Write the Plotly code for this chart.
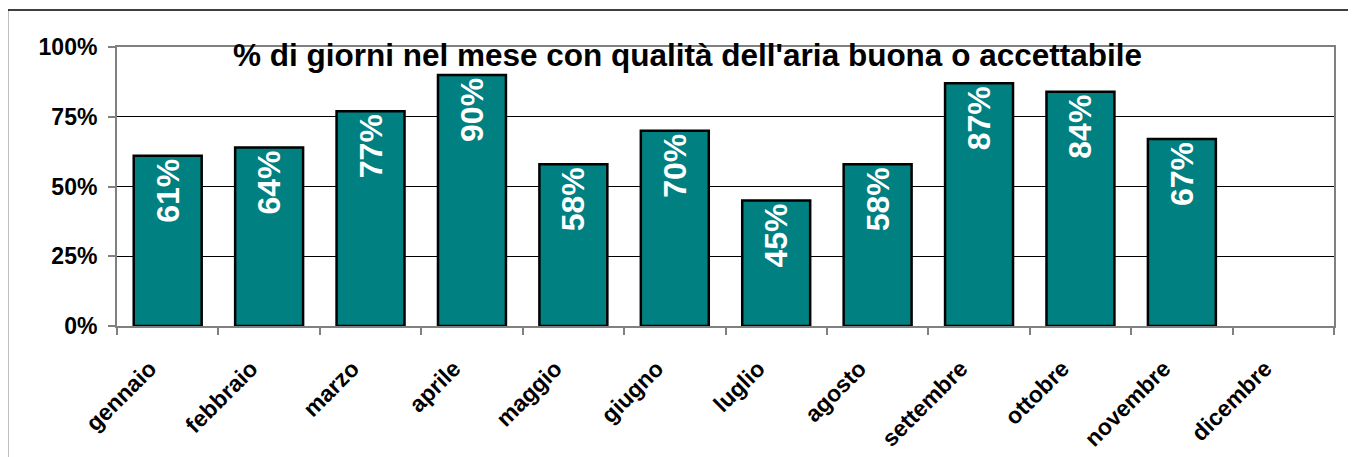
import plotly.graph_objects as go

months = ["gennaio", "febbraio", "marzo", "aprile", "maggio", "giugno",
          "luglio", "agosto", "settembre", "ottobre", "novembre", "dicembre"]
values = [61, 64, 77, 90, 58, 70, 45, 58, 87, 84, 67, None]
y_ticks = [0, 25, 50, 75, 100]
y_tick_labels = ["0%", "25%", "50%", "75%", "100%"]
title_text = "% di giorni nel mese con qualità dell'aria buona o accettabile"

FONT = "Arial, 'Liberation Sans', sans-serif"
labels = [f"{v}%" if v is not None else "" for v in values]

fig = go.Figure()
fig.add_trace(go.Bar(
    x=months, y=values,
    marker=dict(color="#008080", line=dict(color="#000000", width=2.5)),
    text=labels, textposition="inside", insidetextanchor="end",
    textangle=-90,
    textfont=dict(family=FONT, size=32, color="white", weight="bold"),
    cliponaxis=False,
))

# page body has an 8px margin; compensate so the plot lands at the target pixels
OFF = 8
W, H = 1356, 457
L, R, T, B = 117 - OFF, 22 + OFF, 47 - OFF, 131 + OFF
pw, ph = W - L - R, H - T - B

fig.update_layout(
    width=W, height=H,
    margin=dict(l=L, r=R, t=T, b=B, pad=0),
    paper_bgcolor="white", plot_bgcolor="white",
    showlegend=False, bargap=0.33,
    font=dict(family=FONT, color="black"),
)
fig.update_xaxes(
    showline=True, linecolor="#808080", linewidth=2, mirror=True,
    ticks="outside", ticklen=7, tickcolor="#808080", tickwidth=2,
    tickson="boundaries", tickangle=-45,
    tickfont=dict(family=FONT, size=23, color="black", weight="bold"),
    ticklabelstandoff=18, ticklabelshift=-18,
    showgrid=False,
)
fig.update_yaxes(
    range=[0, 100], tickvals=y_ticks, ticktext=y_tick_labels,
    showline=True, linecolor="#808080", linewidth=2, mirror=True,
    ticks="outside", ticklen=7, tickcolor="#808080", tickwidth=2,
    showgrid=True, gridcolor="black", gridwidth=1, zeroline=False,
    tickfont=dict(family=FONT, size=23, color="black", weight="bold"),
    ticklabelstandoff=6,
)

# outer chart-area border (target pixel positions in the window)
def px_x(px):
    return (px - OFF - L) / pw

def px_y(py):
    return (H - B - (py - OFF)) / ph

fig.add_shape(type="rect", xref="paper", yref="paper",
              x0=px_x(7.5), x1=px_x(W + 20), y0=px_y(H + 20), y1=px_y(10),
              line=dict(color="black", width=1.5), fillcolor="rgba(0,0,0,0)", layer="below")

fig.add_annotation(
    text=title_text, xref="paper", yref="paper",
    x=px_x(687), y=px_y(55), xanchor="center", yanchor="middle",
    showarrow=False,
    font=dict(family=FONT, size=31.5, color="black", weight="bold"),
)

fig.write_html("out.html")
